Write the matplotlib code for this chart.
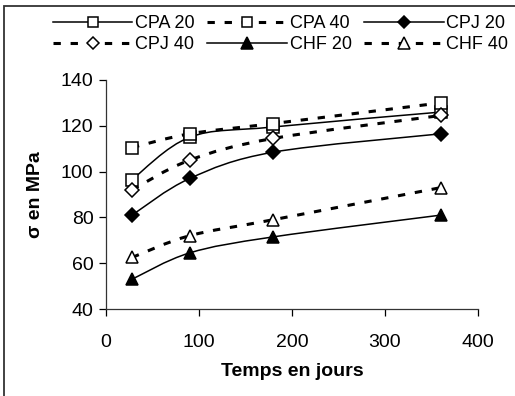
import numpy as np
import matplotlib.pyplot as plt
from matplotlib.path import Path
from matplotlib.patches import PathPatch, Rectangle
from matplotlib.lines import Line2D

plt.rcParams['font.family'] = ['Liberation Sans', 'DejaVu Sans']

# temps (jours) et resistance (MPa)
jours = [28, 90, 180, 360]
cpa20 = [96.5, 115, 119.5, 126]
cpa40 = [110.5, 116.5, 121, 130]
cpj20 = [81, 97, 108.5, 116.5]
cpj40 = [92, 105, 114.5, 124.5]
chf20 = [53, 64.5, 71.5, 81]
chf40 = [62.5, 72, 79, 93]

labels = ['CPA 20', 'CPA 40', 'CPJ 20', 'CPJ 40', 'CHF 20', 'CHF 40']
series = [cpa20, cpa40, cpj20, cpj40, chf20, chf40]
markers = ['s', 's', 'D', 'D', '^', '^']
fills = ['white', 'white', 'black', 'white', 'black', 'white']
msizes = [8, 8, 7, 7, 9, 9]
dashed = [False, True, False, True, False, True]


def smooth_path(x, y):
    # courbe lissee type tableur : bezier cubiques entre les points
    p = np.column_stack([x, y]).astype(float)
    n = len(p)
    verts = [p[0]]
    codes = [Path.MOVETO]
    for i in range(n - 1):
        p0 = p[i - 1] if i > 0 else p[i]
        p3 = p[i + 2] if i + 2 < n else p[i + 1]
        c1 = p[i] + (p[i + 1] - p0) / 6
        c2 = p[i + 1] - (p3 - p[i]) / 6
        verts += [c1, c2, p[i + 1]]
        codes += [Path.CURVE4] * 3
    return Path(verts, codes)


fig = plt.figure(figsize=(5.15, 3.96), dpi=100)
ax = fig.add_axes([106 / 515, 1 - 309 / 396, 372 / 515, 229 / 396])

handles = []
for vals, lab, m, fc, ms, d in zip(series, labels, markers, fills, msizes, dashed):
    if d:
        kw = dict(linewidth=2.2, linestyle=(0, (2.4, 3.2)))
    else:
        kw = dict(linewidth=1.1, linestyle='-')
    patch = PathPatch(smooth_path(jours, vals), fill=False, edgecolor='black',
                      capstyle='butt', **kw)
    ax.add_patch(patch)
    ax.plot(jours, vals, linestyle='none', marker=m, markersize=ms,
            markerfacecolor=fc, markeredgecolor='black', markeredgewidth=1.1,
            zorder=3)
    handles.append(Line2D([], [], color='black', marker=m, markersize=ms - 1,
                          markerfacecolor=fc, markeredgecolor='black',
                          markeredgewidth=1.1, dash_capstyle='butt', **kw))

ax.set_xlim(0, 400)
ax.set_ylim(40, 140)
ax.set_xticks([0, 100, 200, 300, 400])
ax.set_yticks([40, 60, 80, 100, 120, 140])
ax.spines['top'].set_visible(False)
ax.spines['right'].set_visible(False)
for s in ['left', 'bottom']:
    ax.spines[s].set_linewidth(0.9)
    ax.spines[s].set_color('#333333')
ax.tick_params(direction='out', length=5, width=0.9, labelsize=14, pad=4,
               colors='black')
ax.xaxis.set_tick_params(pad=13)
ax.set_xlabel('Temps en jours', fontsize=14, fontweight='bold', labelpad=9)
ax.set_ylabel('σ en MPa', fontsize=14, fontweight='bold', labelpad=12)

# legende sur deux lignes, remplie ligne par ligne
order = [0, 3, 1, 4, 2, 5]
fig.legend([handles[i] for i in order], [labels[i] for i in order],
           loc='upper left', bbox_to_anchor=(53 / 515, 1 - 15 / 396),
           ncol=3, frameon=False, fontsize=13, handlelength=4.4,
           handletextpad=0.15, columnspacing=0.7, borderpad=0,
           borderaxespad=0, labelspacing=0.22, numpoints=1)

# cadre du graphique
fig.add_artist(Rectangle((4 / 515, -0.1), 1.2, 1.1 - 6 / 396,
                         transform=fig.transFigure, fill=False,
                         edgecolor='#333333', linewidth=1.3))

fig.savefig('out.png', dpi=100)
